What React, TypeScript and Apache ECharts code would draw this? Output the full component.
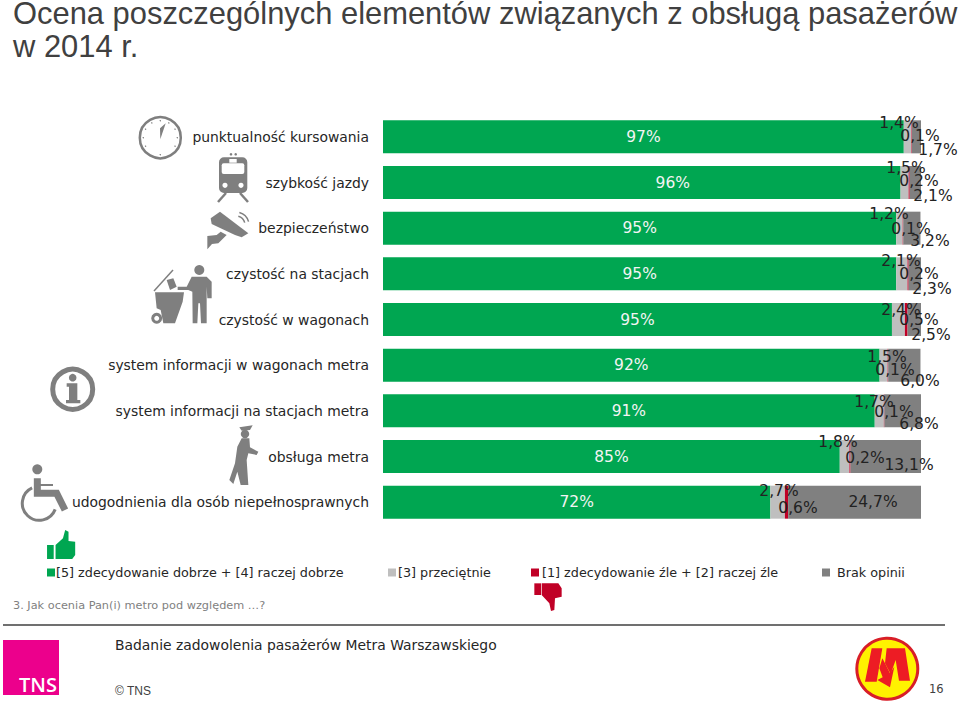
import React, { useEffect, useRef } from "react";
import * as echarts from "echarts";

const categories = [
  "punktualność kursowania",
  "szybkość jazdy",
  "bezpieczeństwo",
  "czystość na stacjach",
  "czystość w wagonach",
  "system informacji w wagonach metra",
  "system informacji na stacjach metra",
  "obsługa metra",
  "udogodnienia dla osób niepełnosprawnych",
];
const goodValues = [96.8, 96.2, 95.4, 95.4, 94.6, 92.3, 91.4, 84.9, 72.0];
const averageValues = [1.4, 1.5, 1.2, 2.1, 2.4, 1.5, 1.7, 1.8, 2.7];
const badValues = [0.1, 0.2, 0.1, 0.2, 0.5, 0.1, 0.1, 0.2, 0.6];
const noOpinionValues = [1.7, 2.1, 3.2, 2.3, 2.5, 6.0, 6.8, 13.1, 24.7];
const seriesNames = [
  "[5] zdecydowanie dobrze + [4] raczej dobrze",
  "[3] przeciętnie",
  "[1] zdecydowanie źle + [2] raczej źle",
  "Brak opinii",
];
const titleText = "Ocena poszczególnych elementów związanych z obsługą pasażerów\nw 2014 r.";
const questionText = "3. Jak ocenia Pan(i) metro pod względem …?";
const footerText = "Badanie zadowolenia pasażerów Metra Warszawskiego";

// Hand-placed label centres of the original slide, page pixels, one row per bar.
const goodLabelShift = [0, 31, 0, 0, 0, 0, 0, 0, 0];
const averageLabelAt = [[899,123],[906,168],[889,214],[901,261],[901,310],[887,357],[874,402],[838,442],[779,491]];
const badLabelAt = [[920,136],[919,181],[911,229],[919,274],[919,320],[895,370],[894,412],[865,458],[798,508]];
const noOpinionLabelAt = [[938,150],[933,196],[930,241],[932,289],[931,335],[920,381],[919,424],[909,465],[873,502]];

const GREEN = "#00A651";
const LIGHT = "#BFBFBF";
const RED = "#C00026";
const DARK = "#808080";
const ICON = "#7F7F7F";
const FONT = "DejaVu Sans";

const poly = (pts: number[][], fill: string) => ({ type: "polygon", silent: true, shape: { points: pts }, style: { fill } });
const rect = (x: number, y: number, width: number, height: number, fill: string, r = 0) => ({
  type: "rect", silent: true, shape: { x, y, width, height, r }, style: { fill },
});
const circ = (cx: number, cy: number, r: number, fill: string, stroke?: string, lineWidth = 0) => ({
  type: "circle", silent: true, shape: { cx, cy, r }, style: { fill, stroke, lineWidth },
});
const line = (x1: number, y1: number, x2: number, y2: number, stroke: string, lineWidth: number) => ({
  type: "line", silent: true, shape: { x1, y1, x2, y2 }, style: { stroke, lineWidth },
});
const arc = (cx: number, cy: number, r: number, a: number, b: number, stroke: string, lineWidth: number) => ({
  type: "arc", silent: true, shape: { cx, cy, r, startAngle: (a * Math.PI) / 180, endAngle: (b * Math.PI) / 180, clockwise: true },
  style: { stroke, lineWidth, fill: "none" },
});
const text = (x: number, y: number, t: string, fontSize: number, fill: string, fontFamily = FONT) => ({
  type: "text", silent: true, x, y, style: { text: t, fontSize, fill, fontFamily, textVerticalAlign: "middle" },
});

// zoom-crop coordinates to page coordinates
const z1 = (p: number[][]) => p.map(([x, y]) => [x / 3, y / 3 + 100]);
const z2 = (p: number[][]) => p.map(([x, y]) => [x / 3, y / 3 + 340]);
const zThumbUp = (p: number[][]) => p.map(([x, y]) => [x / 2.7, y / 3 + 525]);
const zThumbDown = (p: number[][]) => p.map(([x, y]) => [520 + x / 3, 550 + y / 3]);
const zLogo = (p: number[][]) => p.map(([x, y]) => [845 + x / 3, 630 + y / 3]);

function icons() {
  const out: any[] = [];
  // clock
  out.push(circ(160.3, 137.7, 20.5, "#fff", ICON, 2.5));
  for (let i = 0; i < 12; i++) {
    const a = (i * Math.PI) / 6;
    out.push(circ(160.3 + 17 * Math.cos(a), 137.7 + 17 * Math.sin(a), 0.7, ICON));
  }
  out.push(poly([[160.3, 139.3], [165.7, 123.3], [160, 128.3]], ICON));
  // train
  out.push(rect(219, 157.3, 28.3, 35.7, ICON, 5));
  out.push(rect(221.7, 163.3, 22.6, 10.7, "#fff", 2));
  out.push(rect(229.3, 159, 7.4, 3.7, "#fff"));
  out.push(circ(225, 185.3, 2.6, "#fff"), circ(241, 185.3, 2.6, "#fff"));
  out.push(circ(231, 154.3, 1.3, ICON), circ(235.7, 154.3, 1.3, ICON));
  out.push(line(226, 193, 218, 202, ICON, 2.5), line(240, 193, 248, 202, ICON, 2.5));
  // camera
  out.push(poly(z1([[660, 335], [745, 400], [725, 412], [705, 405], [635, 372], [632, 355]]), ICON));
  out.push(poly(z1([[622, 408], [650, 405], [662, 395], [680, 405], [655, 430], [636, 432], [622, 448]]), ICON));
  out.push(arc(236, 225, 9, -75, -15, ICON, 1.5), arc(236, 225, 13, -75, -15, ICON, 1.5));
  // person and bin
  out.push(circ(199.3, 270, 5, ICON));
  out.push(poly(z1([[575, 530], [620, 530], [635, 545], [635, 595], [622, 595], [620, 560], [620, 670], [603, 670], [600, 610], [595, 610], [592, 670], [578, 670], [577, 575], [565, 570], [533, 570], [533, 560], [560, 560]]), ICON));
  out.push(poly(z1([[465, 577], [552, 577], [548, 605], [525, 670], [490, 670], [482, 630], [470, 625]]), ICON));
  out.push(circ(156.7, 318.3, 4, "#fff", ICON, 3));
  out.push(line(154, 291, 173, 270, ICON, 1.5));
  out.push(poly(z1([[500, 540], [520, 535], [530, 560], [510, 570]]), ICON));
  // info
  out.push(circ(72.7, 389.3, 20, "#fff", ICON, 5));
  out.push(circ(72.7, 377.7, 3.8, ICON));
  out.push(poly(z2([[200, 130], [232, 130], [232, 180], [241, 180], [241, 190], [198, 190], [198, 180], [207, 180], [207, 140], [200, 140]]), ICON));
  // officer
  out.push(poly(z2([[718, 262], [758, 256], [750, 270], [725, 272]]), ICON));
  out.push(circ(245, 434, 4.2, ICON));
  out.push(poly(z2([[725, 295], [748, 295], [750, 322], [775, 335], [770, 345], [745, 340], [740, 360], [745, 435], [722, 435], [712, 395], [700, 432], [688, 420], [705, 370], [712, 320]]), ICON));
  // wheelchair
  out.push(circ(37.3, 469.3, 5, ICON));
  out.push({ type: "polyline", silent: true, shape: { points: z2([[112, 415], [112, 460], [170, 460], [195, 510]]) }, style: { stroke: ICON, lineWidth: 7, fill: "none" } });
  out.push(line(38, 485, 53, 485, ICON, 2));
  out.push(arc(39.3, 503.3, 17, 21, 245, ICON, 3));
  // thumbs
  out.push(poly(zThumbUp([[127, 60], [145, 60], [145, 102], [127, 102]]), GREEN));
  out.push(poly(zThumbUp([[150, 60], [170, 40], [176, 15], [185, 20], [185, 48], [203, 50], [203, 90], [195, 102], [150, 102]]), GREEN));
  out.push(poly(zThumbDown([[43, 100], [63, 100], [63, 135], [43, 135]]), RED));
  out.push(poly(zThumbDown([[65, 100], [115, 100], [125, 115], [125, 140], [105, 145], [103, 180], [93, 183], [88, 160], [65, 135]]), RED));
  // TNS logo
  out.push(rect(3, 640, 56, 55, "#EC008C"));
  out.push({ type: "text", silent: true, x: 19, y: 684, style: { text: "TNS", fontSize: 20, fontWeight: 600, fill: "#fff", fontFamily: "Open Sans", textVerticalAlign: "middle" } });
  // metro logo
  out.push(circ(887.3, 668.7, 30.5, "#FFF200", "#D81E28", 3));
  out.push(poly(zLogo([[80, 55], [112, 55], [95, 155], [60, 155]]), "#ED1C24"));
  out.push(poly(zLogo([[125, 55], [180, 55], [195, 152], [162, 152], [152, 90], [137, 132], [120, 100]]), "#ED1C24"));
  out.push(poly(zLogo([[112, 85], [120, 100], [135, 130], [148, 110], [135, 172], [97, 150], [113, 142], [103, 115]]), "#ED1C24"));
  // footer
  out.push(line(3, 625, 945, 625, "#404040", 1.5));
  out.push(text(13, 605, questionText, 11.3, "#7F7F7F"));
  out.push(text(115, 645, footerText, 13.9, "#262626"));
  out.push(text(115, 691, "© TNS", 12, "#404040", "Liberation Sans"));
  out.push(text(929, 689, "16", 11.5, "#404040"));
  return out;
}

export default function App() {
  const ref = useRef<HTMLDivElement>(null);
  useEffect(() => {
    document.body.style.margin = "0";
    const chart = echarts.init(ref.current!, undefined, { renderer: "svg" });
    const placed = (at: number[][]) => (p: any) => ({
      x: at[p.dataIndex][0], y: at[p.dataIndex][1], align: "center", verticalAlign: "middle",
    });
    const pct = (v: any) => String(v.value.toFixed(1)).replace(".", ",") + "%";
    const base = (name: string, data: number[], color: string) => ({
      type: "bar", name, stack: "all", data, barWidth: 33, itemStyle: { color }, silent: true,
    });
    const lbl = { show: true, fontFamily: FONT, fontSize: 15.5, color: "#222", formatter: pct };
    const legendBase = {
      top: 566, itemWidth: 8, itemHeight: 8, icon: "rect", itemGap: 0, padding: 0, selectedMode: false,
    };
    const legendText = (shift: number) => ({ fontFamily: FONT, fontSize: 12.75, color: "#262626", padding: [0, 0, 0, shift] });
    chart.setOption({
      animation: false,
      backgroundColor: "#fff",
      title: {
        text: titleText, left: 8, top: -8,
        textStyle: { fontFamily: "Liberation Sans", fontSize: 30.9, fontWeight: "normal", color: "#404040", lineHeight: 33 },
      },
      grid: { left: 383, right: 39, top: 114, height: 411 },
      xAxis: { type: "value", min: 0, max: 100, show: false },
      yAxis: {
        type: "category", inverse: true, data: categories,
        axisLine: { show: false }, axisTick: { show: false },
        axisLabel: { fontFamily: FONT, fontSize: 13.9, color: "#262626", margin: 14 },
      },
      legend: [
        { ...legendBase, left: 47, data: [seriesNames[0]], textStyle: legendText(-4) },
        { ...legendBase, left: 388, data: [seriesNames[1]], textStyle: legendText(-3) },
        { ...legendBase, left: 531, data: [seriesNames[2]], textStyle: legendText(-2) },
        { ...legendBase, left: 822, data: [seriesNames[3]], textStyle: legendText(2) },
      ],
      series: [
        {
          ...base(seriesNames[0], goodValues, GREEN),
          label: {
            show: true, fontFamily: FONT, fontSize: 15.5, color: "#F4F4F4",
            formatter: (v: any) => v.value.toFixed(0) + "%",
          },
          labelLayout: (p: any) => ({ dx: goodLabelShift[p.dataIndex] }),
        },
        { ...base(seriesNames[1], averageValues, LIGHT), label: lbl, labelLayout: placed(averageLabelAt) },
        { ...base(seriesNames[2], badValues, RED), label: lbl, labelLayout: placed(badLabelAt) },
        { ...base(seriesNames[3], noOpinionValues, DARK), label: lbl, labelLayout: placed(noOpinionLabelAt) },
      ],
      graphic: { elements: icons() },
    });
    return () => chart.dispose();
  }, []);
  return <div ref={ref} style={{ width: 960, height: 706 }} />;
}
